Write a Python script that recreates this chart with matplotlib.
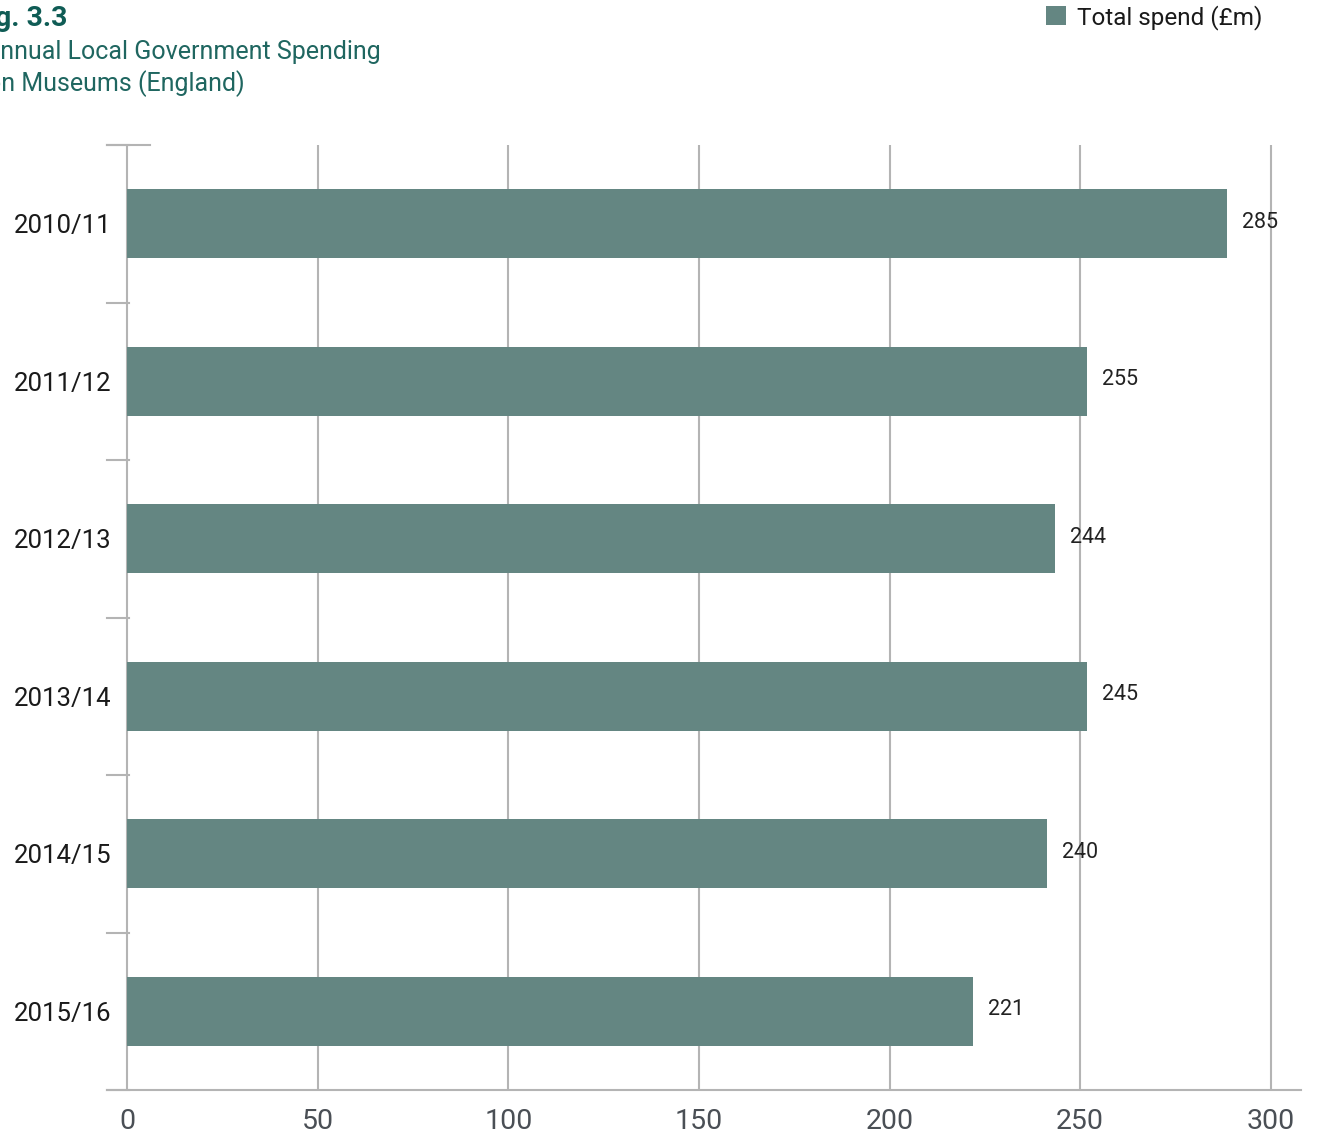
import matplotlib
matplotlib.use("Agg")
import matplotlib.pyplot as plt

# bar lengths as drawn (they do not quite match the printed labels)
years = ["2010/11", "2011/12", "2012/13", "2013/14", "2014/15", "2015/16"]
spend = [288.5, 251.7, 243.4, 251.7, 241.3, 221.9]
spend_labels = ["285", "255", "244", "245", "240", "221"]
xticks = [0, 50, 100, 150, 200, 250, 300]

BAR = "#648682"
GRID = "#b4b4b4"
TEAL = "#0f5c55"

plt.rcParams["font.family"] = ["Roboto", "DejaVu Sans"]

W, H = 1319, 1136
fig = plt.figure(figsize=(W / 100, H / 100), dpi=100)
# axes box in pixels: x 107..1301, y 145..1090
ax = fig.add_axes([107 / W, 1 - 1090 / H, (1301 - 107) / W, (1090 - 145) / H])

pos = list(range(len(years)))
bars = ax.barh(pos, spend, height=0.44, color=BAR, zorder=3, label="Total spend (£m)")
ax.set_ylim(len(years) - 0.5, -0.5)
ax.set_xlim(-5.24, 307.9)

for p, v, lab in zip(pos, spend, spend_labels):
    ax.text(v + 4, p - 0.01, lab, va="center", ha="left", fontsize=15.5,
            color="#222222", zorder=4)

# grid and zero line
for t in xticks:
    ax.axvline(t, color=GRID, lw=1.5, zorder=1)

for s in ["top", "right"]:
    ax.spines[s].set_visible(False)
ax.spines["left"].set_position(("data", 0))
ax.spines["left"].set_visible(False)
ax.spines["bottom"].set_color(GRID)
ax.spines["bottom"].set_linewidth(1.5)

ax.set_xticks(xticks)
ax.set_xticklabels([str(t) for t in xticks], fontsize=20.5, color="#4a4f55")
ax.tick_params(axis="x", length=0, pad=13)

ax.set_yticks(pos)
ax.set_yticklabels(years, fontsize=18.5, color="#1a1a1a")
ax.tick_params(axis="y", which="major", length=0, pad=11)
bounds = [p - 0.5 for p in pos] + [len(years) - 0.5]
for b in bounds:
    ax.plot([-5.24, 0.5], [b, b], color=GRID, lw=1.5, zorder=2, clip_on=False)
ax.plot([-5.24, 6], [-0.5, -0.5], color=GRID, lw=1.5, zorder=2, clip_on=False)

# title block, cut off at the left edge like the original
fig.text(-28 / W, 1 - 19 / H, "Fig. 3.3", fontsize=20.5, fontweight="bold",
         color=TEAL, va="center", ha="left")
fig.text(-16 / W, 1 - 52 / H, "Annual Local Government Spending", fontsize=18,
         color="#1f6660", va="center", ha="left")
fig.text(-13 / W, 1 - 84 / H, "on Museums (England)", fontsize=18,
         color="#1f6660", va="center", ha="left")

leg = fig.legend(handles=[bars], loc="upper right",
                 bbox_to_anchor=(1262 / W, 1 - 5 / H), frameon=False,
                 fontsize=17.5, handlelength=0.82, handleheight=0.82,
                 handletextpad=0.45, borderaxespad=0, borderpad=0)
for t in leg.get_texts():
    t.set_color("#1a1a1a")

fig.savefig("out.png", dpi=100)
